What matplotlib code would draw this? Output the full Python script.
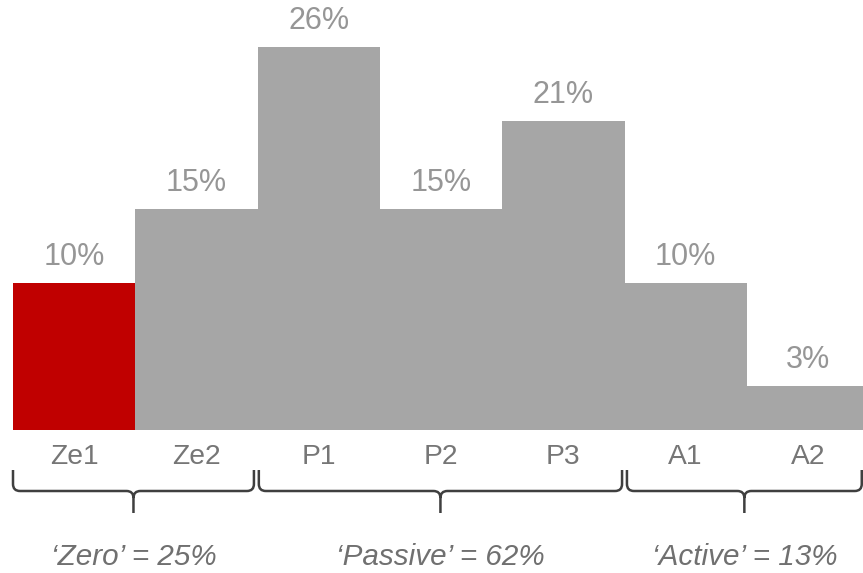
import matplotlib
matplotlib.use("Agg")
import matplotlib.pyplot as plt
from matplotlib.path import Path
from matplotlib.patches import PathPatch
from matplotlib import transforms

# Share of each segment (%)
categories = ["Ze1", "Ze2", "P1", "P2", "P3", "A1", "A2"]
shares = [10, 15, 26, 15, 21, 10, 3]
bar_colors = ["#C00000", "#A6A6A6", "#A6A6A6", "#A6A6A6", "#A6A6A6", "#A6A6A6", "#A6A6A6"]

# Segment groups: label and span along the category axis
group_labels = ["\u2018Zero\u2019 = 25%", "\u2018Passive\u2019 = 62%", "\u2018Active\u2019 = 13%"]
group_spans = [(-0.5, 1.47), (1.51, 4.48), (4.52, 6.44)]

W, H = 863, 573
plt.rcParams["font.family"] = ["Liberation Sans", "DejaVu Sans"]

fig = plt.figure(figsize=(W / 100, H / 100), dpi=100)
bar_px = 122.3
ax = fig.add_axes([13 / W, 1 - 430 / H, 7 * bar_px / W, 430 / H])
ax.set_xlim(-0.5, 6.5)
ax.set_ylim(0, 29.2)
ax.axis("off")

x = list(range(len(categories)))
ax.bar(x, shares, width=1.0, color=bar_colors, linewidth=0)

for xi, v in zip(x, shares):
    ax.annotate(f"{v}%", (xi, v), xytext=(0, 13), textcoords="offset points",
                ha="center", va="baseline", fontsize=22, color="#969696")

# x in data units, y in pixels from the top of the figure
def ypx(p):
    return 1 - p / H

mix = transforms.blended_transform_factory(ax.transData, fig.transFigure)

for xi, name in zip(x, categories):
    ax.text(xi, ypx(457), name, transform=mix, ha="center", va="center",
            fontsize=20.3, color="#767676")

def brace(xa, xb, top=470, line=491, tip=513, curl=7):
    rx = curl / bar_px
    xm = (xa + xb) / 2
    verts = [
        (xa, ypx(top)), (xa, ypx(line - curl)),
        (xa, ypx(line)), (xa + rx, ypx(line)),
        (xm - rx, ypx(line)),
        (xm, ypx(line)), (xm, ypx(line + curl)),
        (xm, ypx(tip)),
        (xm, ypx(line + curl)),
        (xm, ypx(line)), (xm + rx, ypx(line)),
        (xb - rx, ypx(line)),
        (xb, ypx(line)), (xb, ypx(line - curl)),
        (xb, ypx(top)),
    ]
    codes = [Path.MOVETO, Path.LINETO,
             Path.CURVE3, Path.CURVE3,
             Path.LINETO,
             Path.CURVE3, Path.CURVE3,
             Path.LINETO,
             Path.MOVETO,
             Path.CURVE3, Path.CURVE3,
             Path.LINETO,
             Path.CURVE3, Path.CURVE3,
             Path.LINETO]
    return PathPatch(Path(verts, codes), transform=mix, fill=False,
                     edgecolor="#3F3F3F", linewidth=1.8, clip_on=False,
                     capstyle="butt", joinstyle="round")

for (xa, xb), lab in zip(group_spans, group_labels):
    ax.add_patch(brace(xa, xb))
    ax.text((xa + xb) / 2, ypx(557), lab, transform=mix, ha="center", va="center",
            fontsize=21.3, style="italic", color="#707070")

fig.savefig("out.png", dpi=100)
